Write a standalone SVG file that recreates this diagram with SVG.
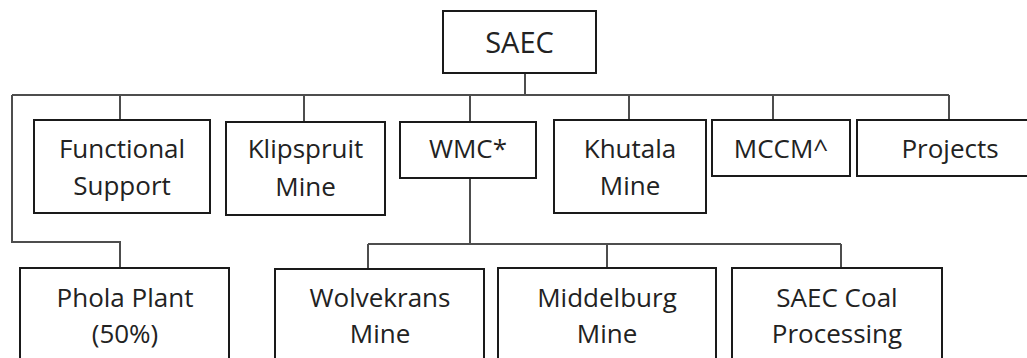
<svg xmlns="http://www.w3.org/2000/svg" width="1027" height="358" viewBox="0 0 1027 358">
<style>
.box{fill:#fff;stroke:#1a1a1a;stroke-width:2}
.ln{fill:none;stroke:#4d4d4d;stroke-width:2}
text{font-family:"Open Sans","Noto Sans",sans-serif;font-size:26px;fill:#222;text-anchor:middle}
</style>
<rect width="1027" height="358" fill="#fff"/>
<g id="connectors">
<path class="ln" d="M525 73V95"/>
<path class="ln" d="M12 95H949"/>
<path class="ln" d="M120 95V120M304 95V122M470 95V122M629 95V120M773 95V120M949 95V120"/>
<path class="ln" d="M12 95V242H120V268"/>
<path class="ln" d="M470 178V244M368 244H841M368 244V269M607 244V268M841 244V268"/>
</g>
<g id="saec"><rect class="box" x="443" y="11" width="153" height="62"/><text x="519.5" y="53" style="font-size:29px">SAEC</text></g>
<g id="functional"><rect class="box" x="34" y="120" width="176" height="93"/><text x="122" y="158">Functional</text><text x="122" y="195">Support</text></g>
<g id="klipspruit"><rect class="box" x="226" y="122" width="159" height="93"/><text x="305.5" y="158">Klipspruit</text><text x="305.5" y="196">Mine</text></g>
<g id="wmc"><rect class="box" x="400" y="122" width="136" height="56"/><text x="468" y="158">WMC*</text></g>
<g id="khutala"><rect class="box" x="554" y="120" width="152" height="93"/><text x="630" y="158">Khutala</text><text x="630" y="195">Mine</text></g>
<g id="mccm"><rect class="box" x="712" y="120" width="138" height="56"/><text x="781" y="158">MCCM^</text></g>
<g id="projects"><rect class="box" x="857" y="120" width="180" height="56"/><text x="950" y="158">Projects</text></g>
<g id="phola"><rect class="box" x="20" y="268" width="209" height="100"/><text x="125" y="307">Phola Plant</text><text x="125" y="343">(50%)</text></g>
<g id="wolvekrans"><rect class="box" x="275" y="269" width="209" height="100"/><text x="380" y="307">Wolvekrans</text><text x="380" y="343">Mine</text></g>
<g id="middelburg"><rect class="box" x="498" y="268" width="218" height="100"/><text x="607" y="307">Middelburg</text><text x="607" y="343">Mine</text></g>
<g id="coal"><rect class="box" x="732" y="268" width="210" height="100"/><text x="837" y="307">SAEC Coal</text><text x="837" y="343">Processing</text></g>
</svg>
